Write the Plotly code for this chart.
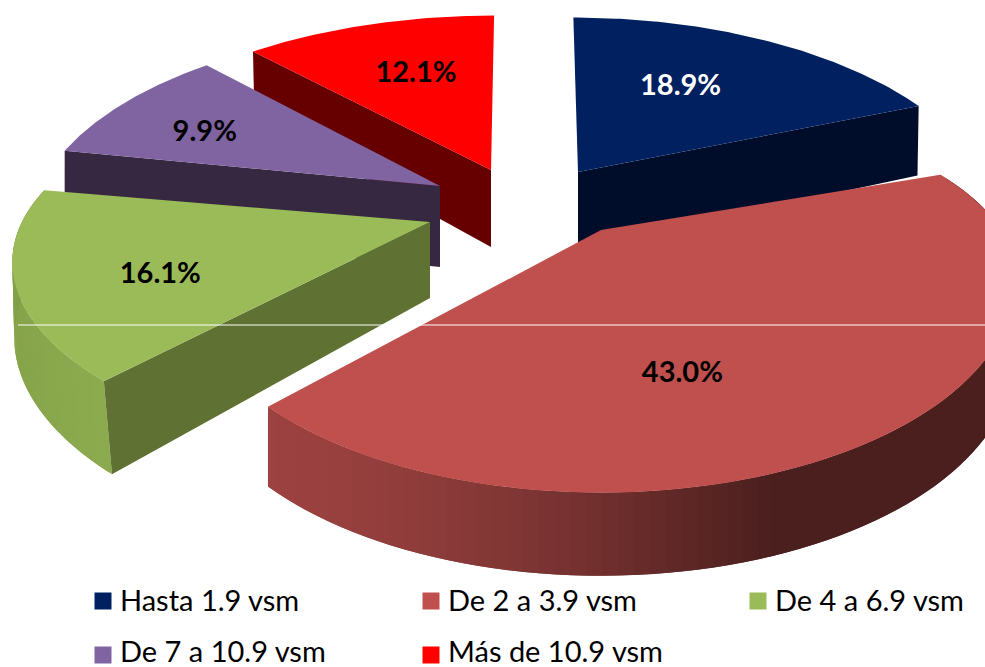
import math
import plotly.graph_objects as go

# ---- data ----
categories = ["Hasta 1.9 vsm", "De 2 a 3.9 vsm", "De 4 a 6.9 vsm", "De 7 a 10.9 vsm", "Más de 10.9 vsm"]
values = [18.9, 43.0, 16.1, 9.9, 12.1]
top_colors = ["#002060", "#C0504D", "#9BBB59", "#8064A2", "#FF0000"]
wall_colors = ["#000D2A", "#4A1F1E", "#5F7233", "#362841", "#660000"]

# ---- projection / styling (pixels of the 985x667 canvas) ----
W, H = 985, 667
RX, RY, K = 400, 197, 0.25
apex = [(578, 172), (601, 230), (430, 222), (440, 186), (491, 170)]
depth = [76, 72, 76, 81, 77]
depth_pow = [1, 0.5, 1, 1, 1]
scale_x = [1.01, 1.0, 1.02, 1.0, 1.03]
scale_y = [0.98, 1.0, 0.9, 1.0, 0.98]
back_y = [1.0, 0.82, 1.0, 1.0, 1.0]
skew = [0.03, 0.0, 0.085, 0.0, -0.02]
draw_order = [4, 3, 2, 0, 1]
# which cut wall (0 = start edge, 1 = end edge) faces the viewer
cut_wall = {0: 1, 2: 0, 3: 0, 4: 0}
rim_colors = {1: ("#9C4240", "#4A1F1E"), 2: ("#8CAA4E", "#7F9C45")}
label_uv = [(0.292, 0.49), (0.172, -0.62), (-0.625, -0.28), (-0.63, 0.285), (-0.213, 0.565)]
label_font = ["white", "black", "black", "black", "black"]
legend_pos = [(103, 601), (431, 601), (758, 601), (103, 655), (431, 655)]
legend_text_dx = 17
legend_text_dy = [3, 3, 3, 0, 0]


def project(i, u, v, z=0.0):
    w = 1 + K * v
    X = RX * scale_x[i] * u / w
    Y = -RY * scale_y[i] * v / w
    if v > 0:
        Y *= back_y[i]
    lean = skew[i] * Y * (1 + 0.6 * z)
    Y += z * depth[i] / w ** depth_pow[i]
    return apex[i][0] + X + lean, apex[i][1] + Y


def mix(a, b, f):
    pa = [int(a[j:j + 2], 16) for j in (1, 3, 5)]
    pb = [int(b[j:j + 2], 16) for j in (1, 3, 5)]
    return "#%02X%02X%02X" % tuple(round(x + (y - x) * f) for x, y in zip(pa, pb))


def poly(pts, color):
    return go.Scatter(
        x=[p[0] for p in pts] + [pts[0][0]],
        y=[p[1] for p in pts] + [pts[0][1]],
        mode="lines", fill="toself", fillcolor=color,
        line=dict(color=color, width=0), hoverinfo="skip", showlegend=False,
    )


total = sum(values)
starts, acc = [], 0.0
for val in values:
    starts.append(acc)
    acc += val / total * 2 * math.pi
ends = starts[1:] + [2 * math.pi]

fig = go.Figure()
for i in draw_order:
    t0, t1 = starts[i], ends[i]
    n = 90
    ts = [t0 + (t1 - t0) * k / n for k in range(n + 1)]
    # rim quads (each one overlaps the next so that no seams show)
    if i in rim_colors:
        for k in range(n):
            a, b = ts[k], ts[min(k + 2, n)]
            if math.cos((a + b) / 2) > 0.6:
                continue
            p = [project(i, math.sin(a), math.cos(a)), project(i, math.sin(b), math.cos(b)),
                 project(i, math.sin(b), math.cos(b), 1), project(i, math.sin(a), math.cos(a), 1)]
            if i == 1:
                f = min(1.0, max(0.0, (p[0][0] - 268) / 512)) ** 1.5
            else:
                f = k / n
            fig.add_trace(poly(p, mix(rim_colors[i][0], rim_colors[i][1], f)))
    # cut wall facing viewer
    if i in cut_wall:
        t = t1 if cut_wall[i] else t0
        e = (math.sin(t), math.cos(t))
        fig.add_trace(poly([project(i, 0, 0), project(i, *e), project(i, *e, 1), project(i, 0, 0, 1)], wall_colors[i]))
    # top face
    pts = [project(i, 0, 0)] + [project(i, math.sin(t), math.cos(t)) for t in ts]
    fig.add_trace(poly(pts, top_colors[i]))

# data labels
for i in range(len(values)):
    x, y = project(i, *label_uv[i])
    fig.add_trace(go.Scatter(
        x=[x], y=[y], mode="text", text=[f"{values[i]:.1f}%"], textposition="middle center",
        textfont=dict(family="Lato", size=29, color=label_font[i], weight="bold"),
        hoverinfo="skip", showlegend=False, cliponaxis=False,
    ))

# legend
for i, name in enumerate(categories):
    fig.add_trace(go.Scatter(
        x=[legend_pos[i][0]], y=[legend_pos[i][1]], mode="markers",
        marker=dict(symbol="square", size=17, color=top_colors[i], line=dict(width=0)),
        hoverinfo="skip", showlegend=False, cliponaxis=False,
    ))
    fig.add_trace(go.Scatter(
        x=[legend_pos[i][0] + legend_text_dx], y=[legend_pos[i][1] + legend_text_dy[i]],
        mode="text", text=[name], textposition="middle right",
        textfont=dict(family="Lato", size=29, color="black"),
        hoverinfo="skip", showlegend=False, cliponaxis=False,
    ))

fig.add_shape(type="line", x0=18, x1=W, y0=325, y1=325, line=dict(color="white", width=1), layer="above")
fig.update_layout(
    width=W, height=H, margin=dict(l=0, r=0, t=0, b=0),
    paper_bgcolor="white", plot_bgcolor="white", showlegend=False,
    xaxis=dict(range=[0, W], visible=False, fixedrange=True),
    yaxis=dict(range=[H, 0], visible=False, fixedrange=True),
)
fig.write_html(
    "out.html", config={"displayModeBar": False},
    post_script="document.body.style.margin='0';document.body.style.overflow='hidden';",
)
